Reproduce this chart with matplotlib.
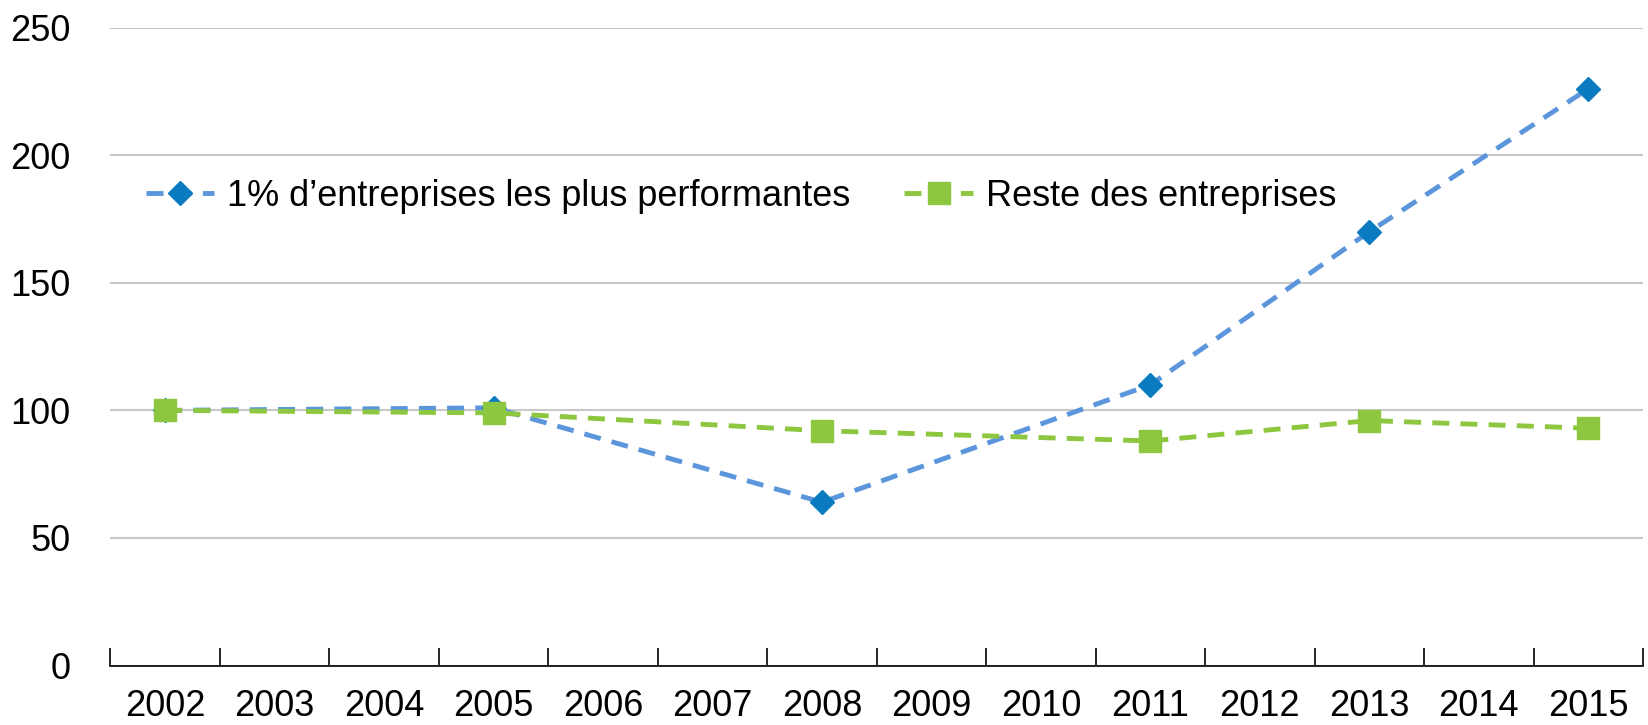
import numpy as np
import matplotlib
matplotlib.use('Agg')
import matplotlib.pyplot as plt
from matplotlib import font_manager

# font: narrow sans if available
names = {f.name for f in font_manager.fontManager.ttflist}
family = ['Liberation Sans Narrow'] if 'Liberation Sans Narrow' in names else ['Liberation Sans']
plt.rcParams['font.family'] = family + ['DejaVu Sans']

years = [str(y) for y in range(2002, 2016)]
topYears = ['2002', '2005', '2008', '2011', '2013', '2015']
topFirms = [100, 101, 64, 110, 170, 226]
restFirms = [100, 99, 92, 88, 96, 93]
labelTop = '1% d\u2019entreprises les plus performantes'
labelRest = 'Reste des entreprises'

blueLine = '#5B96DC'
blueMarker = '#0A7BC1'
green = '#8DC63F'

xpos = [years.index(y) for y in topYears]

fig, ax = plt.subplots(figsize=(16.48, 7.25), dpi=100)
fig.subplots_adjust(left=0.067, right=0.997, top=0.962, bottom=0.082)

ax.plot(xpos, topFirms, linestyle=(0, (3.5, 2.3)), color=blueLine, linewidth=3.5,
        marker='D', markersize=12, markerfacecolor=blueMarker, markeredgecolor=blueMarker,
        label=labelTop, zorder=3)
ax.plot(xpos, restFirms, linestyle=(0, (3.5, 2.3)), color=green, linewidth=3.5,
        marker='s', markersize=16, markerfacecolor=green, markeredgecolor=green,
        label=labelRest, zorder=4)

ax.set_xlim(-0.5, len(years) - 0.5)
ax.set_ylim(0, 250)
ax.set_yticks([0, 50, 100, 150, 200, 250])
ax.set_xticks(range(len(years)))
ax.set_xticklabels(years)
ax.set_xticks(np.arange(-0.5, len(years), 1), minor=True)
ax.tick_params(axis='x', which='major', length=0, labelsize=26, pad=17)
ax.tick_params(axis='x', which='minor', length=13, direction='in', width=1.2, color='black')
ax.tick_params(axis='y', length=0, labelsize=26, pad=29)

ax.yaxis.grid(True, color='#C8C8C8', linewidth=1.5)
ax.set_axisbelow(True)
for s in ['top', 'right', 'left']:
    ax.spines[s].set_visible(False)
ax.spines['bottom'].set_linewidth(1.2)

ax.legend(loc='center left', bbox_to_anchor=(0.023, 0.735), ncol=2, frameon=False,
          fontsize=26, columnspacing=1.5, handlelength=1.9, handletextpad=0.35,
          borderpad=0, borderaxespad=0)

plt.savefig('out.png', dpi=100)
